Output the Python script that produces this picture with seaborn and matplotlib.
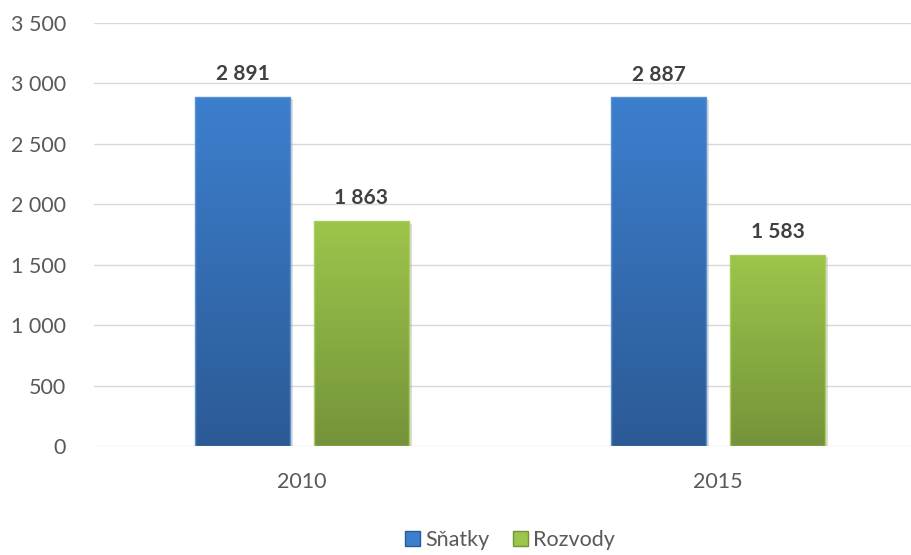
import numpy as np
import pandas as pd
import matplotlib
matplotlib.use("Agg")
import matplotlib.pyplot as plt
import matplotlib.patheffects as pe
from matplotlib.patches import Rectangle
from matplotlib.ticker import FuncFormatter, MultipleLocator
from matplotlib.colors import LinearSegmentedColormap
import seaborn as sns

# Marriages and divorces by year
years = ["2010", "2015"]
series = ["Sňatky", "Rozvody"]
snatky = [2891, 2887]
rozvody = [1863, 1583]

df = pd.DataFrame({
    "rok": years * 2,
    "typ": [series[0]] * len(years) + [series[1]] * len(years),
    "pocet": snatky + rozvody,
})

sns.set_theme(style="white")
plt.rcParams["font.family"] = ["Lato", "DejaVu Sans"]

# top / bottom colours of the gradient fill for each series
grad = {
    "Sňatky": ("#3C7FCE", "#2C5A95"),
    "Rozvody": ("#9EC54B", "#74933A"),
}
edge = {"Sňatky": "#5B91D3", "Rozvody": "#A9CD5E"}
palette = {k: v[0] for k, v in grad.items()}

fig = plt.figure(figsize=(9.12, 5.55), dpi=100)
ax = fig.add_axes([94 / 912, (555 - 446) / 555, (912 - 94) / 912, 423 / 555])

sns.barplot(data=df, x="rok", y="pocet", hue="typ", hue_order=series,
            order=years, palette=palette, width=0.572, gap=0.203,
            ax=ax, legend=False)

ax.set_xlim(-0.5, -0.5 + 818 / 416)
ax.set_ylim(0, 3500)
ax.yaxis.set_major_locator(MultipleLocator(500))
ax.yaxis.set_major_formatter(FuncFormatter(lambda v, p: f"{int(v):,}".replace(",", " ")))
ax.set_axisbelow(True)
ax.grid(axis="y", color="#D9D9D9", linewidth=1.0)
ax.grid(axis="x", visible=False)
for s in ax.spines.values():
    s.set_visible(False)
ax.set_xlabel("")
ax.set_ylabel("")
ax.tick_params(axis="y", length=0, pad=20, labelsize=15.5, labelcolor="#595959")
ax.tick_params(axis="x", length=0, pad=19, labelsize=15.5, labelcolor="#595959")

# replace flat fills with vertical gradients and draw value labels
vals_by_series = {"Sňatky": snatky, "Rozvody": rozvody}
for container, name in zip(ax.containers, series):
    top, bottom = grad[name]
    cmap = LinearSegmentedColormap.from_list(name, [bottom, top])
    for bar, val in zip(container.patches, vals_by_series[name]):
        x0, y0 = bar.get_x(), bar.get_y()
        w, h = bar.get_width(), bar.get_height()
        bar.set_facecolor("none")
        bar.set_edgecolor("none")
        bar.set_path_effects([pe.SimplePatchShadow(offset=(2, -2), shadow_rgbFace="#7F7F7F", alpha=0.25)])
        img = ax.imshow(np.linspace(0, 1, 256).reshape(-1, 1), cmap=cmap,
                        origin="lower", aspect="auto",
                        extent=[x0, x0 + w, y0, y0 + h], zorder=2.5)
        clip = Rectangle((x0, y0), w, h, transform=ax.transData, facecolor="none")
        img.set_clip_path(clip)
        ax.add_patch(Rectangle((x0, y0), w, h, facecolor="none",
                               edgecolor=edge[name], linewidth=1.0, zorder=3))
        ax.annotate(f"{val:,}".replace(",", " "), (x0 + w / 2, y0 + h),
                    xytext=(0, 9), textcoords="offset points",
                    ha="center", va="bottom", fontsize=15, fontweight="bold",
                    color="#404040")

ax.set_xlim(-0.5, -0.5 + 818 / 416)
ax.set_ylim(0, 3500)

handles = [Rectangle((0, 0), 1, 1, facecolor=grad[n][0], edgecolor=grad[n][1]) for n in series]
ax.legend(handles, series, loc="center", bbox_to_anchor=((510 - 94) / 818, -0.222),
          ncol=2, frameon=False, fontsize=15.5, labelcolor="#595959",
          handlelength=0.7, handleheight=0.7, handletextpad=0.25, columnspacing=1.1,
          borderpad=0.2)

fig.savefig("out.png", dpi=100)
